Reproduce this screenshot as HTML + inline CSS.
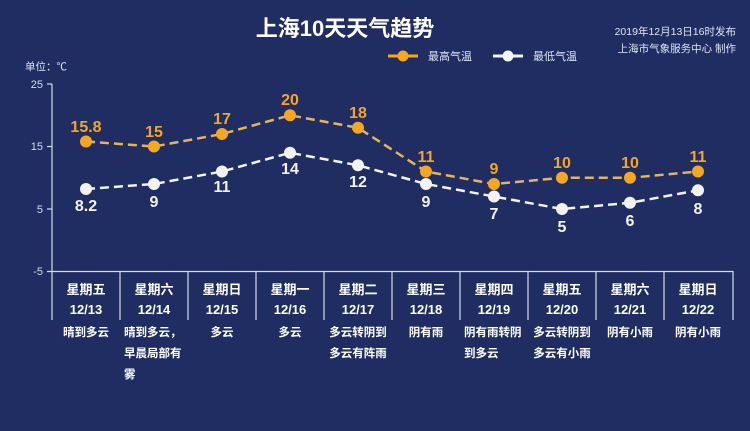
<!DOCTYPE html>
<html><head><meta charset="utf-8"><style>
body{margin:0;width:750px;height:426px;background:#1f2d63;overflow:hidden;font-family:"Liberation Sans","Noto Sans CJK SC",sans-serif;}
</style></head><body>
<svg width="750" height="426" xmlns="http://www.w3.org/2000/svg" font-family="Liberation Sans, Noto Sans CJK SC, sans-serif">
<rect width="750" height="426" fill="#1f2d63"/>
<text x="345" y="36" text-anchor="middle" fill="#fff" font-size="22" font-weight="bold">上海10天天气趋势</text>
<text x="736" y="35" text-anchor="end" fill="#e0e4f0" font-size="10.5">2019年12月13日16时发布</text>
<text x="736" y="52" text-anchor="end" fill="#e0e4f0" font-size="10.5">上海市气象服务中心 制作</text>
<line x1="388" y1="56" x2="418" y2="56" stroke="#f5a623" stroke-width="3"/><circle cx="403" cy="56" r="5.5" fill="#f5a623"/>
<text x="428" y="60" fill="#e0e4f0" font-size="11">最高气温</text>
<line x1="493" y1="56" x2="523" y2="56" stroke="#f2f2f2" stroke-width="3"/><circle cx="508" cy="56" r="5.5" fill="#f2f2f2"/>
<text x="533" y="60" fill="#e0e4f0" font-size="11">最低气温</text>
<text x="25" y="70" fill="#e0e4f0" font-size="10.5">单位：℃</text>
<g stroke="#d8dce8" stroke-width="1.2" fill="none">
<line x1="52" y1="84" x2="52" y2="320"/>
<line x1="47" y1="84" x2="52" y2="84"/><line x1="47" y1="146.5" x2="52" y2="146.5"/><line x1="47" y1="209" x2="52" y2="209"/>
<line x1="47" y1="271.5" x2="733" y2="271.5"/>
<line x1="120" y1="271" x2="120" y2="320"/><line x1="188" y1="271" x2="188" y2="320"/><line x1="256" y1="271" x2="256" y2="320"/><line x1="324" y1="271" x2="324" y2="320"/><line x1="392" y1="271" x2="392" y2="320"/><line x1="460" y1="271" x2="460" y2="320"/><line x1="528" y1="271" x2="528" y2="320"/><line x1="596" y1="271" x2="596" y2="320"/><line x1="664" y1="271" x2="664" y2="320"/><line x1="733" y1="271" x2="733" y2="320"/>
</g>
<g fill="#d8dce8" font-size="11" text-anchor="end"><text x="43" y="88">25</text><text x="43" y="150">15</text><text x="43" y="213">5</text><text x="43" y="275">-5</text></g>
<polyline points="86,141.5 154,146.5 222,134 290,115.3 358,127.8 426,171.5 494,184 562,177.8 630,177.8 698,171.5" fill="none" stroke="#e6b45a" stroke-width="2.5" stroke-dasharray="9,5"/>
<polyline points="86,189 154,184 222,171.5 290,152.8 358,165.3 426,184 494,196.5 562,209 630,202.8 698,190.3" fill="none" stroke="#f2f2f2" stroke-width="2.5" stroke-dasharray="9,5"/>
<g fill="#f5a623"><circle cx="86" cy="141.5" r="6"/><circle cx="154" cy="146.5" r="6"/><circle cx="222" cy="134" r="6"/><circle cx="290" cy="115.3" r="6"/><circle cx="358" cy="127.8" r="6"/><circle cx="426" cy="171.5" r="6"/><circle cx="494" cy="184" r="6"/><circle cx="562" cy="177.8" r="6"/><circle cx="630" cy="177.8" r="6"/><circle cx="698" cy="171.5" r="6"/></g>
<g fill="#f2f2f2"><circle cx="86" cy="189" r="6"/><circle cx="154" cy="184" r="6"/><circle cx="222" cy="171.5" r="6"/><circle cx="290" cy="152.8" r="6"/><circle cx="358" cy="165.3" r="6"/><circle cx="426" cy="184" r="6"/><circle cx="494" cy="196.5" r="6"/><circle cx="562" cy="209" r="6"/><circle cx="630" cy="202.8" r="6"/><circle cx="698" cy="190.3" r="6"/></g>
<g fill="#f5a623" font-size="16" font-weight="bold" text-anchor="middle">
<text x="86" y="132">15.8</text><text x="154" y="137">15</text><text x="222" y="124">17</text><text x="290" y="105">20</text><text x="358" y="118">18</text><text x="426" y="162">11</text><text x="494" y="174">9</text><text x="562" y="168">10</text><text x="630" y="168">10</text><text x="698" y="162">11</text></g>
<g fill="#f2f2f2" font-size="16" font-weight="bold" text-anchor="middle">
<text x="86" y="211">8.2</text><text x="154" y="207">9</text><text x="222" y="192">11</text><text x="290" y="174">14</text><text x="358" y="187">12</text><text x="426" y="207">9</text><text x="494" y="219">7</text><text x="562" y="232">5</text><text x="630" y="226">6</text><text x="698" y="214">8</text></g>
<g fill="#fff" font-size="13" font-weight="bold" text-anchor="middle">
<text x="86" y="294">星期五</text><text x="154" y="294">星期六</text><text x="222" y="294">星期日</text><text x="290" y="294">星期一</text><text x="358" y="294">星期二</text><text x="426" y="294">星期三</text><text x="494" y="294">星期四</text><text x="562" y="294">星期五</text><text x="630" y="294">星期六</text><text x="698" y="294">星期日</text>
<text x="86" y="314">12/13</text><text x="154" y="314">12/14</text><text x="222" y="314">12/15</text><text x="290" y="314">12/16</text><text x="358" y="314">12/17</text><text x="426" y="314">12/18</text><text x="494" y="314">12/19</text><text x="562" y="314">12/20</text><text x="630" y="314">12/21</text><text x="698" y="314">12/22</text></g>
<g fill="#fff" font-size="11.5" font-weight="bold">
<text x="86" y="336" text-anchor="middle">晴到多云</text>
<text x="124" y="336">晴到多云，</text><text x="124" y="357">早晨局部有</text><text x="124" y="378">雾</text>
<text x="222" y="336" text-anchor="middle">多云</text>
<text x="290" y="336" text-anchor="middle">多云</text>
<text x="358" y="336" text-anchor="middle">多云转阴到</text><text x="358" y="357" text-anchor="middle">多云有阵雨</text>
<text x="426" y="336" text-anchor="middle">阴有雨</text>
<text x="464" y="336">阴有雨转阴</text><text x="464" y="357">到多云</text>
<text x="562" y="336" text-anchor="middle">多云转阴到</text><text x="562" y="357" text-anchor="middle">多云有小雨</text>
<text x="630" y="336" text-anchor="middle">阴有小雨</text>
<text x="698" y="336" text-anchor="middle">阴有小雨</text>
</g>
</svg>
</body></html>
